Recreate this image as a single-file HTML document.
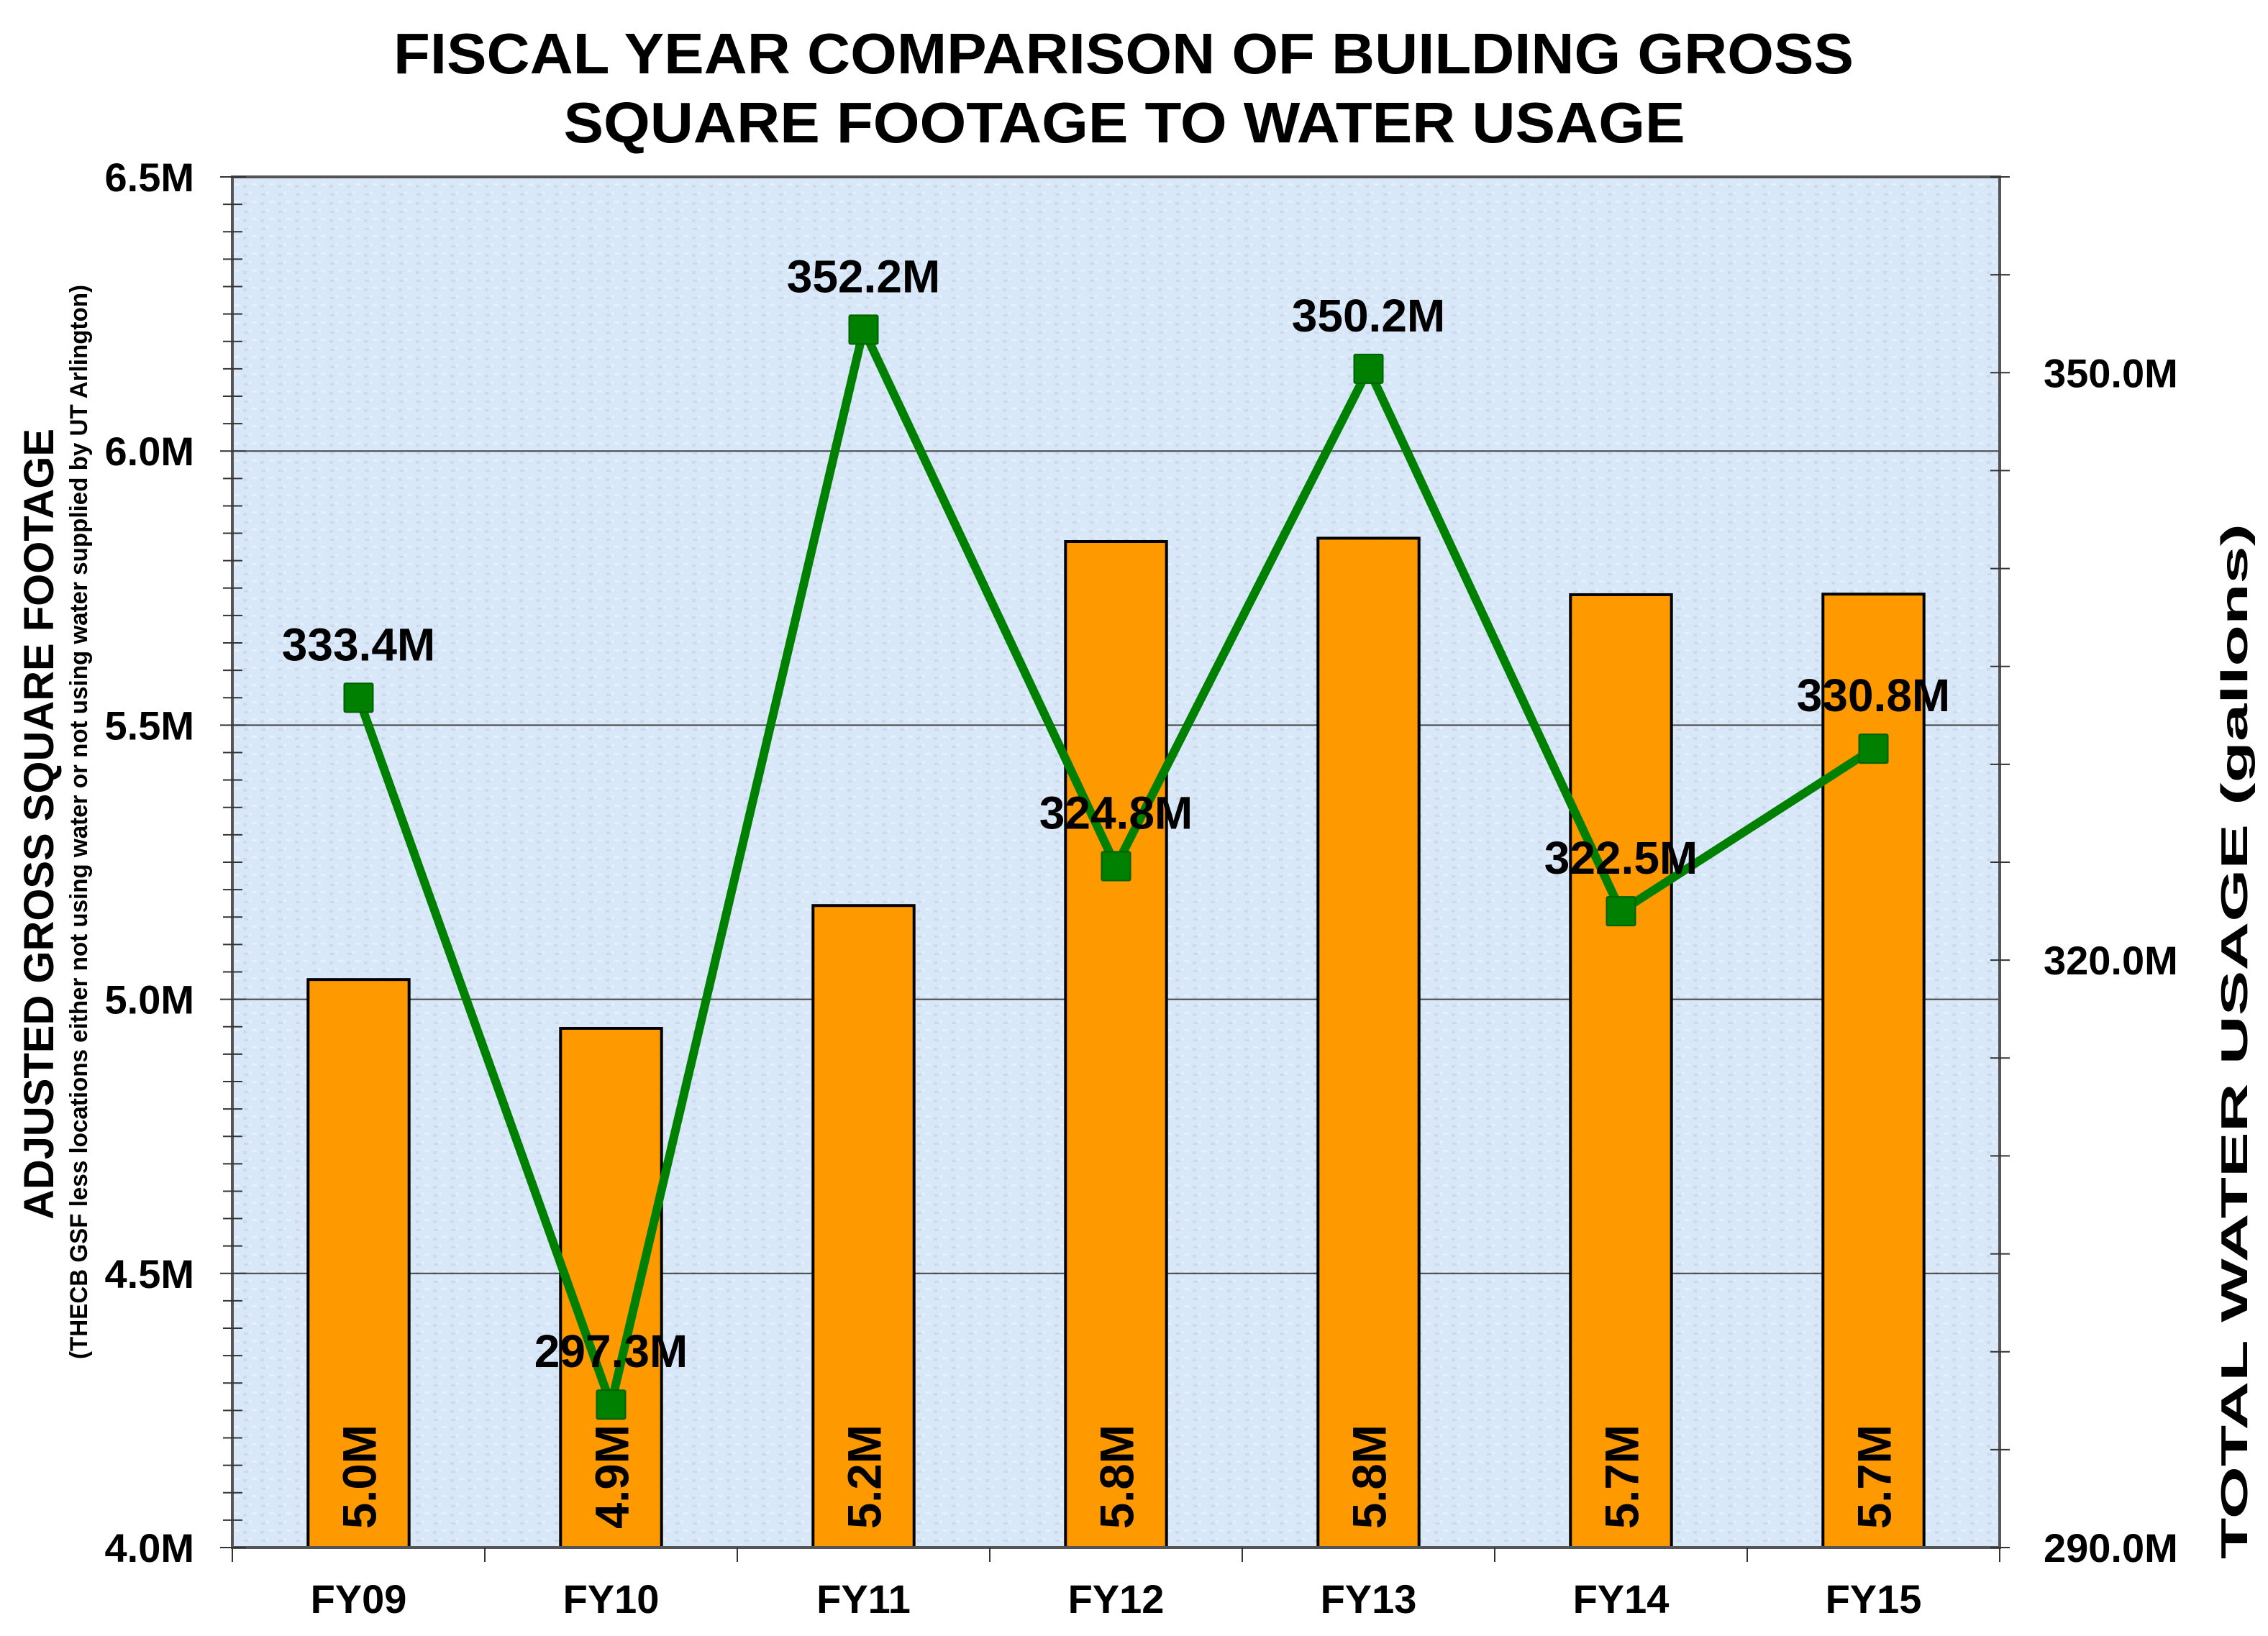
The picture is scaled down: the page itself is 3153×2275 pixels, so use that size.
<!DOCTYPE html>
<html><head><meta charset="utf-8"><style>
html,body{margin:0;padding:0;background:#fff;}
svg{display:block;font-family:"Liberation Sans",Arial,sans-serif;}
</style></head><body>
<svg id="chart" width="3153" height="2275" viewBox="0 0 3153 2275" xmlns="http://www.w3.org/2000/svg">
<defs>
<pattern id="tex" width="24" height="24" patternUnits="userSpaceOnUse">
<rect width="24" height="24" fill="#d9e8f8"/>
<rect x="3" y="5" width="6" height="3" fill="#cbd9ea"/>
<rect x="14" y="15" width="7" height="3" fill="#e6f0fb"/>
<rect x="10" y="2" width="4" height="4" fill="#e3eefa"/>
<rect x="2" y="17" width="5" height="4" fill="#ccdaeb"/>
</pattern>
</defs>
<g font-weight="bold" font-size="80" text-anchor="middle">
<text x="1562" y="102" textLength="2030" lengthAdjust="spacingAndGlyphs">FISCAL YEAR COMPARISON OF BUILDING GROSS</text>
<text x="1563" y="198" textLength="1559" lengthAdjust="spacingAndGlyphs">SQUARE FOOTAGE TO WATER USAGE</text>
</g>
<rect x="323" y="246" width="2457" height="1906" fill="url(#tex)"/>
<g id="grid"></g>
<g id="bars"></g>
<g id="line"></g>
<rect x="323" y="246" width="2457" height="1906" fill="none" stroke="#555" stroke-width="4"/>
<g id="axes"></g>
<text transform="translate(74,1146) rotate(-90)" text-anchor="middle" font-weight="bold" font-size="58" textLength="1100" lengthAdjust="spacingAndGlyphs">ADJUSTED GROSS SQUARE FOOTAGE</text>
<text transform="translate(121,1143) rotate(-90)" text-anchor="middle" font-weight="bold" font-size="34" textLength="1494" lengthAdjust="spacingAndGlyphs">(THECB GSF less locations either not using water or not using water supplied by UT Arlington)</text>
<text transform="translate(3124,1448) rotate(-90)" text-anchor="middle" font-weight="bold" font-size="52" textLength="1440" lengthAdjust="spacingAndGlyphs">TOTAL WATER USAGE (gallons)</text>
</svg>
<script>
const categories = ["FY09","FY10","FY11","FY12","FY13","FY14","FY15"];
const gsfValues = [5.036,4.947,5.171,5.835,5.841,5.738,5.739];
const gsfLabels = ["5.0M","4.9M","5.2M","5.8M","5.8M","5.7M","5.7M"];
const waterValues = [333.4,297.3,352.2,324.8,350.2,322.5,330.8];
const waterLabels = ["333.4M","297.3M","352.2M","324.8M","350.2M","322.5M","330.8M"];
const leftTicks = [4.0,4.5,5.0,5.5,6.0,6.5];
const leftTickLabels = ["4.0M","4.5M","5.0M","5.5M","6.0M","6.5M"];
const rightTicks = [290,320,350];
const rightTickLabels = ["290.0M","320.0M","350.0M"];

const NS = "http://www.w3.org/2000/svg";
const X0 = 323, X1 = 2780, Y0 = 246, Y1 = 2152;
const catW = (X1 - X0) / categories.length;
const xc = i => X0 + catW * (i + 0.5);
const yL = v => Y1 - (v - 4.0) / 2.5 * (Y1 - Y0);
const yR = v => Y1 - (v - 290) / 70 * (Y1 - Y0);
function mk(tag, attrs, parent, txt) {
  const e = document.createElementNS(NS, tag);
  for (const k in attrs) e.setAttribute(k, attrs[k]);
  if (txt !== undefined) e.textContent = txt;
  parent.appendChild(e);
  return e;
}
const grid = document.getElementById('grid');
const bars = document.getElementById('bars');
const line = document.getElementById('line');
const axes = document.getElementById('axes');

leftTicks.forEach((t, i) => {
  if (t > 4.0 && t < 6.5) {
    const g = mk('line', {x1: X0, x2: X1, y1: yL(t), y2: yL(t), stroke: '#444', 'stroke-width': 2}, grid);
    
    
  }
  const lb = mk('text', {x: 270, y: yL(t) + 20, 'text-anchor': 'end', 'font-weight': 'bold', 'font-size': 56}, axes, leftTickLabels[i]);
  
  
});
for (let v = 4.0; v <= 6.5001; v += 0.05) {
  const major = Math.abs(v * 2 - Math.round(v * 2)) < 1e-6;
  const tk = mk('line', {x1: major ? 306 : 310, x2: major ? 342 : 337, y1: yL(v), y2: yL(v), stroke: '#333', 'stroke-width': 2}, axes);
  
  
}
for (let v = 290; v <= 360; v += 5) {
  const tk = mk('line', {x1: 2767, x2: 2794, y1: yR(v), y2: yR(v), stroke: '#333', 'stroke-width': 2}, axes);
  
  
}
rightTicks.forEach((t, i) => {
  const lb = mk('text', {x: 2841, y: yR(t) + 20, 'font-weight': 'bold', 'font-size': 56}, axes, rightTickLabels[i]);
  
  
});
for (let i = 0; i <= categories.length; i++) {
  const tk = mk('line', {x1: X0 + catW * i, x2: X0 + catW * i, y1: Y1, y2: Y1 + 20, stroke: '#333', 'stroke-width': 2}, axes);
  
  
}
categories.forEach((c, i) => {
  const lb = mk('text', {x: xc(i), y: 2243, 'text-anchor': 'middle', 'font-weight': 'bold', 'font-size': 56}, axes, c);
  
  
});

const bw = catW * 0.4;
gsfValues.forEach((v, i) => {
  const r = mk('rect', {x: xc(i) - bw / 2, y: yL(v), width: bw, height: Y1 - yL(v), fill: '#ff9900', stroke: '#000', 'stroke-width': 4}, bars);
  
  
  const t = mk('text', {transform: `translate(${xc(i) + 24},${Y1 - 26}) rotate(-90)`, 'font-weight': 'bold', 'font-size': 66, textLength: 145, lengthAdjust: 'spacingAndGlyphs'}, bars, gsfLabels[i]);
  
  
});

const pts = waterValues.map((v, i) => xc(i) + ',' + yR(v)).join(' ');
const pl = mk('polyline', {points: pts, fill: 'none', stroke: '#008000', 'stroke-width': 12, 'stroke-linejoin': 'round'}, line);


waterValues.forEach((v, i) => {
  const m = mk('rect', {x: xc(i) - 20, y: yR(v) - 20, width: 40, height: 40, fill: '#008000', stroke: '#006000', 'stroke-width': 2, rx: 2}, line);
  
  
  const t = mk('text', {x: xc(i), y: yR(v) - 52, 'text-anchor': 'middle', 'font-weight': 'bold', 'font-size': 64}, line, waterLabels[i]);
  
  
});
</script>
</body></html>
